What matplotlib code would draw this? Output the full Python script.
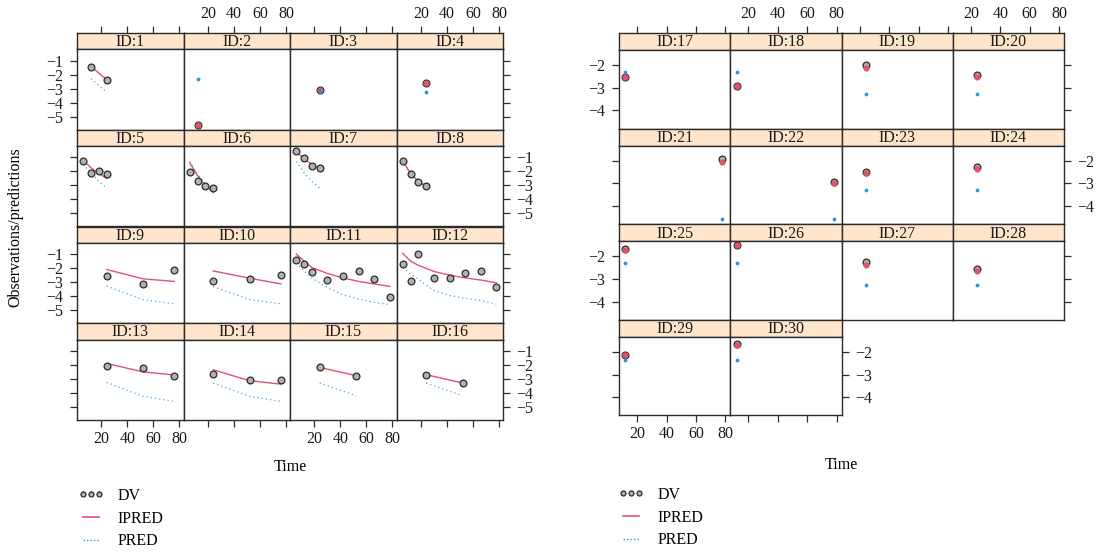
import matplotlib
matplotlib.use("Agg")
import matplotlib.pyplot as plt
import numpy as np
from matplotlib.lines import Line2D

plt.rcParams['font.family'] = ['Liberation Serif', 'DejaVu Serif']
plt.rcParams['font.size'] = 11.5

# observations in long format (one entry per sample)
ID = [1, 1, 2, 3, 4,
      5, 5, 5, 5, 6, 6, 6, 6, 7, 7, 7, 7, 8, 8, 8, 8,
      9, 9, 9, 10, 10, 10,
      11, 11, 11, 11, 11, 11, 11, 11,
      12, 12, 12, 12, 12, 12, 12, 12,
      13, 13, 13, 14, 14, 14, 15, 15, 16, 16,
      17, 18, 19, 20, 21, 22, 23, 24, 25, 26, 27, 28, 29, 30]
TIME = [12, 24, 12, 24, 24,
        6, 12, 18, 24, 6, 12, 18, 24, 6, 12, 18, 24, 6, 12, 18, 24,
        24, 52, 76, 24, 52, 76,
        6, 12, 18, 30, 42, 54, 66, 78,
        6, 12, 18, 30, 42, 54, 66, 78,
        24, 52, 76, 24, 52, 76, 24, 52, 24, 52,
        12, 12, 24, 24, 78, 78, 24, 24, 12, 12, 24, 24, 12, 12]
DV = [-1.43, -2.36, -5.57, -3.09, -2.57,
      -1.24, -2.09, -1.98, -2.21, -2.07, -2.71, -3.07, -3.21,
      -0.55, -1.02, -1.62, -1.74, -1.24, -2.16, -2.74, -3.05,
      -2.57, -3.14, -2.10, -2.92, -2.80, -2.52,
      -1.40, -1.68, -2.27, -2.86, -2.58, -2.18, -2.80, -4.05,
      -1.74, -2.94, -0.98, -2.67, -2.70, -2.32, -2.23, -3.36,
      -2.06, -2.20, -2.82, -2.68, -3.06, -3.06, -2.18, -2.77, -2.70, -3.29,
      -2.50, -2.93, -1.99, -2.42, -1.93, -2.94, -2.49, -2.28, -1.69, -1.48,
      -2.27, -2.55, -2.15, -1.63]
IPRED = [-1.43, -2.36, -5.57, -3.12, -2.57,
         -1.20, -1.75, -2.15, -2.50, -1.40, -2.30, -3.00, -3.50,
         -0.60, -1.10, -1.50, -1.80, -1.25, -2.15, -2.70, -3.05,
         -2.10, -2.76, -2.95, -2.20, -2.72, -3.12,
         -1.00, -1.50, -1.96, -2.38, -2.70, -2.95, -3.13, -3.30,
         -0.95, -1.50, -1.80, -2.24, -2.50, -2.70, -2.85, -3.05,
         -1.90, -2.50, -2.72, -2.35, -3.13, -3.37, -2.18, -2.77, -2.70, -3.29,
         -2.50, -2.93, -2.13, -2.51, -2.07, -3.00, -2.55, -2.37, -1.72, -1.50,
         -2.39, -2.64, -2.15, -1.67]
PRED = [-2.29, -3.26, -2.31, -3.20, -3.24,
        -1.50, -2.10, -2.70, -3.20, -1.30, -2.20, -2.90, -3.40,
        -1.30, -2.10, -2.70, -3.20, -1.30, -2.20, -2.75, -3.10,
        -3.28, -4.25, -4.54, -3.32, -4.24, -4.54,
        -1.60, -2.20, -2.70, -3.40, -3.90, -4.20, -4.45, -4.60,
        -1.96, -2.40, -2.80, -3.60, -3.95, -4.15, -4.30, -4.57,
        -3.25, -4.24, -4.60, -3.30, -4.24, -4.60, -3.30, -4.20, -3.29, -4.20,
        -2.32, -2.30, -3.27, -3.26, -4.57, -4.57, -3.28, -3.28, -2.31, -2.31,
        -3.28, -3.28, -2.37, -2.37]

xticks = [20, 40, 60, 80]
left_ids = list(range(1, 17))
right_ids = list(range(17, 31))

ipred_col = '#DF536B'
pred_col = '#2297E6'
dv_fill = '#b0b0b0'
dark = '#2b2b2b'
strip_col = '#FFE5CC'
fs = 11.5

W, H = 1101, 553
ID_a = np.array(ID)
TIME_a = np.array(TIME, dtype=float)
DV_a = np.array(DV)
IPRED_a = np.array(IPRED)
PRED_a = np.array(PRED)


def box(x, y, w, h):
    return [x / W, 1 - (y + h) / H, w / W, h / H]


def style_axis(ax):
    for s in ax.spines.values():
        s.set_color(dark)
        s.set_linewidth(1.0)
    ax.tick_params(direction='out', length=4.8, width=0.9, color=dark,
                   labelcolor='#1a1a1a', labelsize=fs)
    ax.tick_params(axis='x', pad=3)
    ax.tick_params(axis='y', pad=5)


def draw_grid(fig, ids, x0, col_w, y0, row_h, strip_h, xlim, ylim, yticks):
    n = len(ids)
    last_row = (n - 1) // 4
    for k, pid in enumerate(ids):
        row, col = k // 4, k % 4
        last_col = min(3, n - 1 - row * 4)
        px = x0 + col * col_w
        py = y0 + row * row_h
        sax = fig.add_axes(box(px, py, col_w, strip_h))
        ax = fig.add_axes(box(px, py + strip_h, col_w, row_h - strip_h))

        # strip
        sax.set_facecolor(strip_col)
        sax.set_xlim(xlim)
        sax.set_ylim(0, 1)
        sax.text(0.5, 0.45, f"ID:{pid}", transform=sax.transAxes,
                 ha='center', va='center', fontsize=fs, color='#1a1a1a')
        style_axis(sax)
        sax.set_yticks([])
        sax.set_xticks(xticks)
        sax.tick_params(axis='x', bottom=False, labelbottom=False,
                        top=(row == 0), labeltop=(row == 0 and col % 2 == 1))

        # panel
        m = ID_a == pid
        t = TIME_a[m]
        ax.plot(t, PRED_a[m], color=pred_col, lw=0.9, ls=(0, (1, 2.4)), alpha=0.85)
        ax.plot(t, IPRED_a[m], color=ipred_col, lw=1.0)
        ax.plot(t, DV_a[m], ls='none', marker='o', ms=4.9, mfc=dv_fill,
                mec=dark, mew=0.9)
        if m.sum() == 1:
            ax.plot(t, IPRED_a[m], ls='none', marker='o', ms=3.4,
                    mfc=ipred_col, mec=ipred_col)
            ax.plot(t, PRED_a[m], ls='none', marker='o', ms=1.7,
                    mfc=pred_col, mec=pred_col)
        ax.set_xlim(xlim)
        ax.set_ylim(ylim)
        ax.set_xticks(xticks)
        ax.set_yticks(yticks)
        style_axis(ax)
        ax.tick_params(axis='x', top=False, labeltop=False,
                       bottom=(row == last_row),
                       labelbottom=(row == last_row and col % 2 == 0))
        ax.tick_params(axis='y', left=(col == 0),
                       labelleft=(col == 0 and row % 2 == 0),
                       right=(col == last_col),
                       labelright=(col == last_col and row % 2 == 1))


def add_legend(fig, x, y):
    handles = [
        Line2D([], [], ls='none', marker='o', ms=3.6, mfc=dv_fill, mec=dark, mew=0.9),
        Line2D([], [], color=ipred_col, lw=1.2),
        Line2D([], [], color=pred_col, lw=1.0, ls=(0, (1, 1.5))),
    ]
    fig.legend(handles, ['DV', 'IPRED', 'PRED'], loc='upper left',
               bbox_to_anchor=(x / W, 1 - y / H), frameon=False, numpoints=3,
               handlelength=1.6, handletextpad=0.85, labelspacing=0.42,
               borderaxespad=0, borderpad=0, fontsize=fs)


fig = plt.figure(figsize=(W / 100, H / 100), dpi=100)

draw_grid(fig, left_ids, 77, 106.5, 33, 96.75, 16.5,
          (1.2, 83.1), (-5.93, -0.21), [-1, -2, -3, -4, -5])
draw_grid(fig, right_ids, 619, 111.25, 33, 95.6, 17,
          (7.6, 83.3), (-4.8, -1.33), [-2, -3, -4])

fig.text(15 / W, 1 - 227 / H, 'Observations/predictions', rotation=90,
         ha='center', va='center', fontsize=fs)
fig.text(290 / W, 1 - 467 / H, 'Time', ha='center', va='center', fontsize=fs)
fig.text(841.5 / W, 1 - 465 / H, 'Time', ha='center', va='center', fontsize=fs)

add_legend(fig, 78, 488)
add_legend(fig, 618, 487)

fig.savefig('out.png', dpi=100)
